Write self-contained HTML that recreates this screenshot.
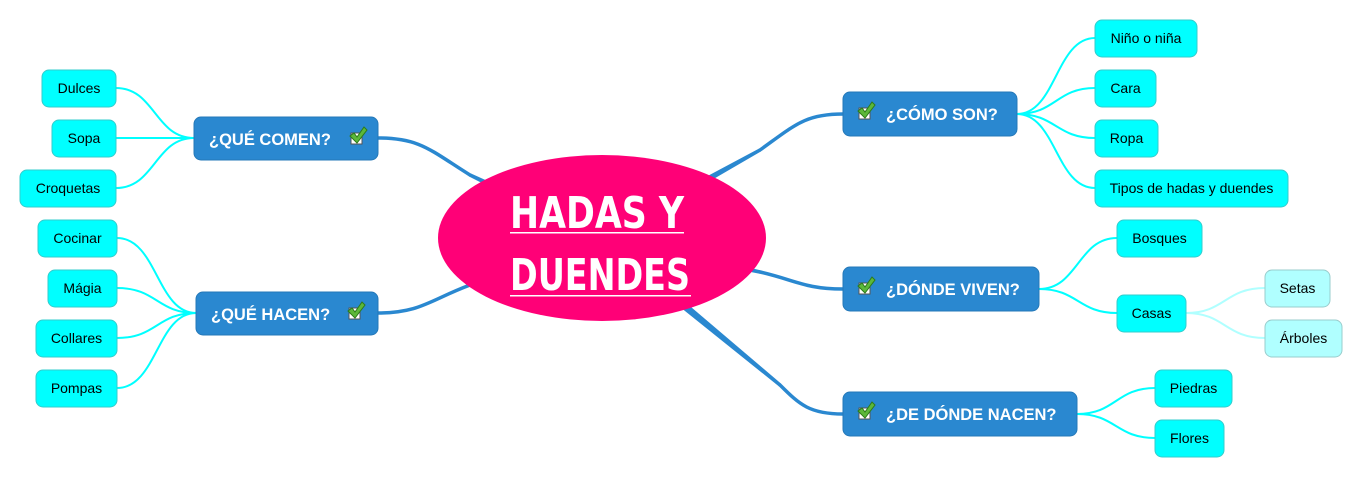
<!DOCTYPE html>
<html><head><meta charset="utf-8"><style>
html,body{margin:0;padding:0;background:#fff;}
svg{display:block;}
.m{font-family:"Liberation Sans",sans-serif;font-weight:bold;font-size:16.5px;fill:#fff;}
.l{font-family:"Liberation Sans",sans-serif;font-size:14px;fill:#000;}
</style></head><body>
<svg width="1363" height="478" viewBox="0 0 1363 478" xmlns="http://www.w3.org/2000/svg">
<defs>
<g id="chk">
<rect x="2" y="6" width="11" height="11" fill="#fff" stroke="#555" stroke-width="1"/>
<path d="M1,9 L5,6 L8,10 L15,0 L18,3 L8,16 Z" fill="#5cb83a" stroke="#2c7a1a" stroke-width="1"/>
</g>
</defs>
<g fill="none" stroke="#2a88d0" stroke-width="3.5" stroke-linecap="round">
<path d="M378,138 C420,138 430,150 470,175"/>
<path d="M378,313 C420,313 430,300 470,285"/>
<path d="M843,114 C805,114 795,125 760,150"/>
<path d="M843,289 C805,289 795,280 760,272"/>
<path d="M843,414 C810,414 800,405 780,385"/>
</g>
<g fill="#2a88d0">
<polygon points="469.25,176.6 470.75,173.4 604.2,233.5 599.8,242.5"/>
<polygon points="470.6,286.65 469.4,283.35 600.3,233.3 603.7,242.7"/>
<polygon points="760.85,151.5 759.15,148.5 599.6,233.6 604.4,242.4"/>
<polygon points="760.37,270.3 759.63,273.7 600.95,242.9 603.05,233.1"/>
<polygon points="781.1,383.65 778.9,386.35 598.8,241.9 605.2,234.1"/>
</g>
<g fill="none" stroke="#00ffff" stroke-width="2">
<path d="M116,88 C155,88 155,138 194,138"/>
<path d="M116,138 L194,138"/>
<path d="M116,188 C155,188 155,138 194,138"/>
<path d="M117,238 C157,238 157,313 196,313"/>
<path d="M117,288 C157,288 157,313 196,313"/>
<path d="M117,338 C157,338 157,313 196,313"/>
<path d="M117,388 C157,388 157,313 196,313"/>
<path d="M1017,114 C1056,114 1056,38 1095,38"/>
<path d="M1017,114 C1056,114 1056,88 1095,88"/>
<path d="M1017,114 C1056,114 1056,138 1095,138"/>
<path d="M1017,114 C1056,114 1056,188 1095,188"/>
<path d="M1039,289 C1078,289 1078,238 1117,238"/>
<path d="M1039,289 C1078,289 1078,313 1117,313"/>
<path d="M1077,414 C1116,414 1116,388 1155,388"/>
<path d="M1077,414 C1116,414 1116,438 1155,438"/>
</g>
<g fill="none" stroke="#b0ffff" stroke-width="2">
<path d="M1186,313 C1225,313 1225,288 1265,288"/>
<path d="M1186,313 C1225,313 1225,338 1265,338"/>
</g>
<ellipse cx="602" cy="238" rx="164" ry="83" fill="#ff0077"/>
<text x="510" y="228" font-family="'DejaVu Sans Condensed','DejaVu Sans',sans-serif" font-weight="bold" font-size="44" fill="#fff" textLength="174" lengthAdjust="spacingAndGlyphs">HADAS Y</text>
<rect x="510" y="232" width="174" height="1.5" fill="#fff"/>
<text x="510" y="290" font-family="'DejaVu Sans Condensed','DejaVu Sans',sans-serif" font-weight="bold" font-size="44" fill="#fff" textLength="180" lengthAdjust="spacingAndGlyphs">DUENDES</text>
<rect x="510" y="295" width="181" height="1.5" fill="#fff"/>
<g fill="#2a88d0" stroke="#2478b8" stroke-width="1">
<rect x="194" y="117" width="184" height="43" rx="7"/>
<rect x="196" y="292" width="182" height="43" rx="7"/>
<rect x="843" y="92" width="174" height="44" rx="7"/>
<rect x="843" y="267" width="196" height="44" rx="7"/>
<rect x="843" y="392" width="234" height="44" rx="7"/>
</g>
<text class="m" x="209" y="145">¿QUÉ COMEN?</text><use href="#chk" x="349" y="127"/>
<text class="m" x="211" y="320">¿QUÉ HACEN?</text><use href="#chk" x="347" y="302"/>
<use href="#chk" x="857" y="102"/><text class="m" x="886" y="120">¿CÓMO SON?</text>
<use href="#chk" x="857" y="277"/><text class="m" x="886" y="295">¿DÓNDE VIVEN?</text>
<use href="#chk" x="857" y="402"/><text class="m" x="886" y="420">¿DE DÓNDE NACEN?</text>
<g fill="#00ffff" stroke="#33cccc" stroke-width="1">
<rect x="42" y="70" width="74" height="37" rx="7"/>
<rect x="52" y="120" width="64" height="37" rx="7"/>
<rect x="20" y="170" width="96" height="37" rx="7"/>
<rect x="38" y="220" width="79" height="37" rx="7"/>
<rect x="48" y="270" width="69" height="37" rx="7"/>
<rect x="36" y="320" width="81" height="37" rx="7"/>
<rect x="36" y="370" width="81" height="37" rx="7"/>
<rect x="1095" y="20" width="102" height="37" rx="7"/>
<rect x="1095" y="70" width="61" height="37" rx="7"/>
<rect x="1095" y="120" width="63" height="37" rx="7"/>
<rect x="1095" y="170" width="193" height="37" rx="7"/>
<rect x="1117" y="220" width="85" height="37" rx="7"/>
<rect x="1117" y="295" width="69" height="37" rx="7"/>
<rect x="1155" y="370" width="77" height="37" rx="7"/>
<rect x="1155" y="420" width="69" height="37" rx="7"/>
</g>
<g fill="#b0ffff" stroke="#99cccc" stroke-width="1">
<rect x="1265" y="270" width="65" height="37" rx="7"/>
<rect x="1265" y="320" width="77" height="37" rx="7"/>
</g>
<g class="l" text-anchor="middle">
<text x="79" y="93">Dulces</text>
<text x="84" y="143">Sopa</text>
<text x="68" y="193">Croquetas</text>
<text x="77.5" y="243">Cocinar</text>
<text x="82.5" y="293">Mágia</text>
<text x="76.5" y="343">Collares</text>
<text x="76.5" y="393">Pompas</text>
<text x="1146" y="43">Niño o niña</text>
<text x="1125.5" y="93">Cara</text>
<text x="1126.5" y="143">Ropa</text>
<text x="1191.5" y="193">Tipos de hadas y duendes</text>
<text x="1159.5" y="243">Bosques</text>
<text x="1151.5" y="318">Casas</text>
<text x="1193.5" y="393">Piedras</text>
<text x="1189.5" y="443">Flores</text>
<text x="1297.5" y="293">Setas</text>
<text x="1303.5" y="343">Árboles</text>
</g>
</svg>
</body></html>
